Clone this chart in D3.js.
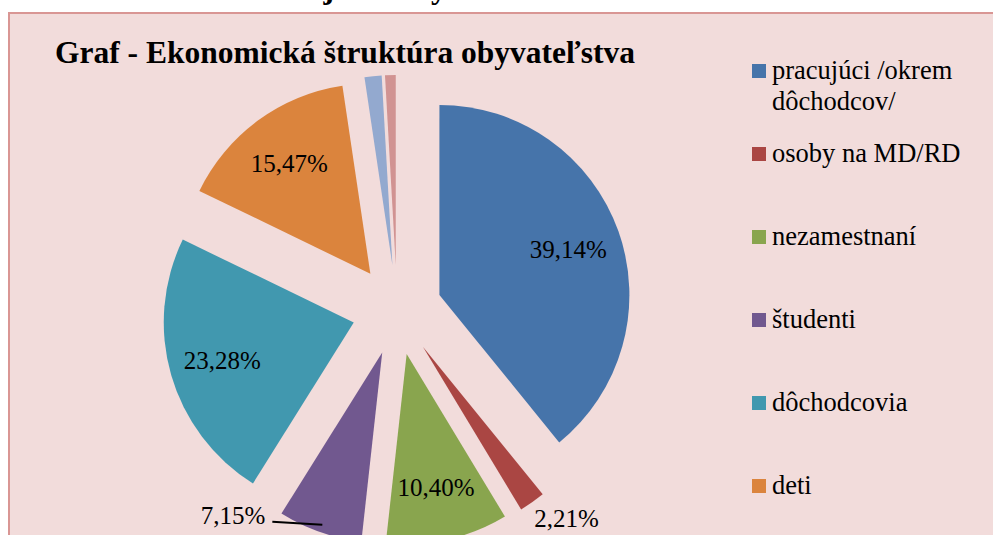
<!DOCTYPE html>
<meta charset="utf-8">
<style>
body { margin: 0; background: #fff; }
svg { display: block; }
text { font-family: "Liberation Serif", "Times New Roman", serif; fill: #000; }
.title { font-weight: bold; font-size: 31.5px; }
.head { font-weight: bold; font-size: 32px; }
.lbl { font-size: 25px; }
.legend text { font-size: 26.5px; }
</style>
<body>
<script src="https://d3js.org/d3.v7.min.js"></script>
<script>

var width = 993,
    height = 535;

// data
var categories = ["pracujúci /okrem dôchodcov/", "osoby na MD/RD", "nezamestnaní",
                  "študenti", "dôchodcovia", "deti", "ostatní", "nezistení"];
var values = [39.14, 2.21, 10.40, 7.15, 23.28, 15.47, 1.45, 0.90];
var labels = ["39,14%", "2,21%", "10,40%", "7,15%", "23,28%", "15,47%", "", ""];
var colors = ["#4674aa", "#aa4643", "#89a54e", "#71588f", "#4198af", "#db843d", "#93a9cf", "#d19392"];

var data = categories.map(function(c, i) {
  return {name: c, value: values[i], label: labels[i], color: colors[i]};
});

var cx = 397, cy = 310,
    radius = 190,
    explode = 45;

var svg = d3.select("body").append("svg")
    .attr("width", width)
    .attr("height", height);

// heading of the page above the chart, cut off by the top edge
svg.append("text")
    .attr("class", "head")
    .attr("x", 447)
    .attr("y", -2)
    .attr("text-anchor", "end")
    .text("Štruktúra ekonomickej aktivity");

// chart area
svg.append("rect")
    .attr("x", 9)
    .attr("y", 13)
    .attr("width", 1000)
    .attr("height", 600)
    .style("fill", "#f2dcdb")
    .style("stroke", "#d99694")
    .style("stroke-width", 2);

svg.append("text")
    .attr("class", "title")
    .attr("x", 55)
    .attr("y", 63)
    .text("Graf - Ekonomická štruktúra obyvateľstva");

var pie = d3.pie()
    .sort(null)
    .value(function(d) { return d.value; });

var arc = d3.arc()
    .innerRadius(0)
    .outerRadius(radius);

function offset(d, k) {
  var a = (d.startAngle + d.endAngle) / 2;
  return [k * Math.sin(a), -k * Math.cos(a)];
}

var arcs = pie(data);

var g = svg.append("g")
    .attr("transform", "translate(" + cx + "," + cy + ")");

var slice = g.selectAll(".slice")
    .data(arcs)
  .enter().append("g")
    .attr("class", "slice")
    .attr("transform", function(d) {
      var o = offset(d, explode);
      return "translate(" + o[0] + "," + o[1] + ")";
    });

slice.append("path")
    .attr("d", arc)
    .style("fill", function(d) { return d.data.color; });

// labels: big slices inside, small ones outside
slice.filter(function(d) { return d.data.label && d.data.value > 8; })
  .append("text")
    .attr("class", "lbl")
    .attr("text-anchor", "middle")
    .attr("dy", "0.35em")
    .attr("transform", function(d) {
      var o = offset(d, radius * 0.72);
      return "translate(" + o[0] + "," + o[1] + ")";
    })
    .text(function(d) { return d.data.label; });

// osoby na MD/RD - outside end, below right of the arc
slice.filter(function(d) { return d.index === 1; })
  .append("text")
    .attr("class", "lbl")
    .attr("transform", function(d) {
      var o = offset(d, radius);
      return "translate(" + (o[0] + 2) + "," + (o[1] + 25) + ")";
    })
    .text(function(d) { return d.data.label; });

// študenti - leader line to the left
slice.filter(function(d) { return d.index === 3; })
  .each(function(d) {
    var p = offset(d, radius * 0.96);
    var s = d3.select(this);
    s.append("line")
        .attr("x1", p[0])
        .attr("y1", p[1])
        .attr("x2", p[0] - 50)
        .attr("y2", p[1] - 3)
        .style("stroke", "#000")
        .style("stroke-width", 2);
    s.append("text")
        .attr("class", "lbl")
        .attr("text-anchor", "end")
        .attr("x", p[0] - 57)
        .attr("y", p[1] - 1)
        .text(d.data.label);
  });

// legend
var legend = svg.append("g")
    .attr("class", "legend")
    .attr("transform", "translate(752,64)");

var item = legend.selectAll(".item")
    .data(data)
  .enter().append("g")
    .attr("class", "item")
    .attr("transform", function(d, i) { return "translate(0," + (i * 83) + ")"; });

item.append("rect")
    .attr("width", 14)
    .attr("height", 14)
    .style("fill", function(d) { return d.color; });

item.append("text")
    .attr("x", 20)
    .attr("y", 15)
    .each(function(d) {
      var t = d3.select(this);
      var parts = d.name === categories[0] ? ["pracujúci /okrem", "dôchodcov/"] : [d.name];
      parts.forEach(function(p, j) {
        t.append("tspan")
            .attr("x", 20)
            .attr("dy", j ? 31 : 0)
            .text(p);
      });
    });

</script>
